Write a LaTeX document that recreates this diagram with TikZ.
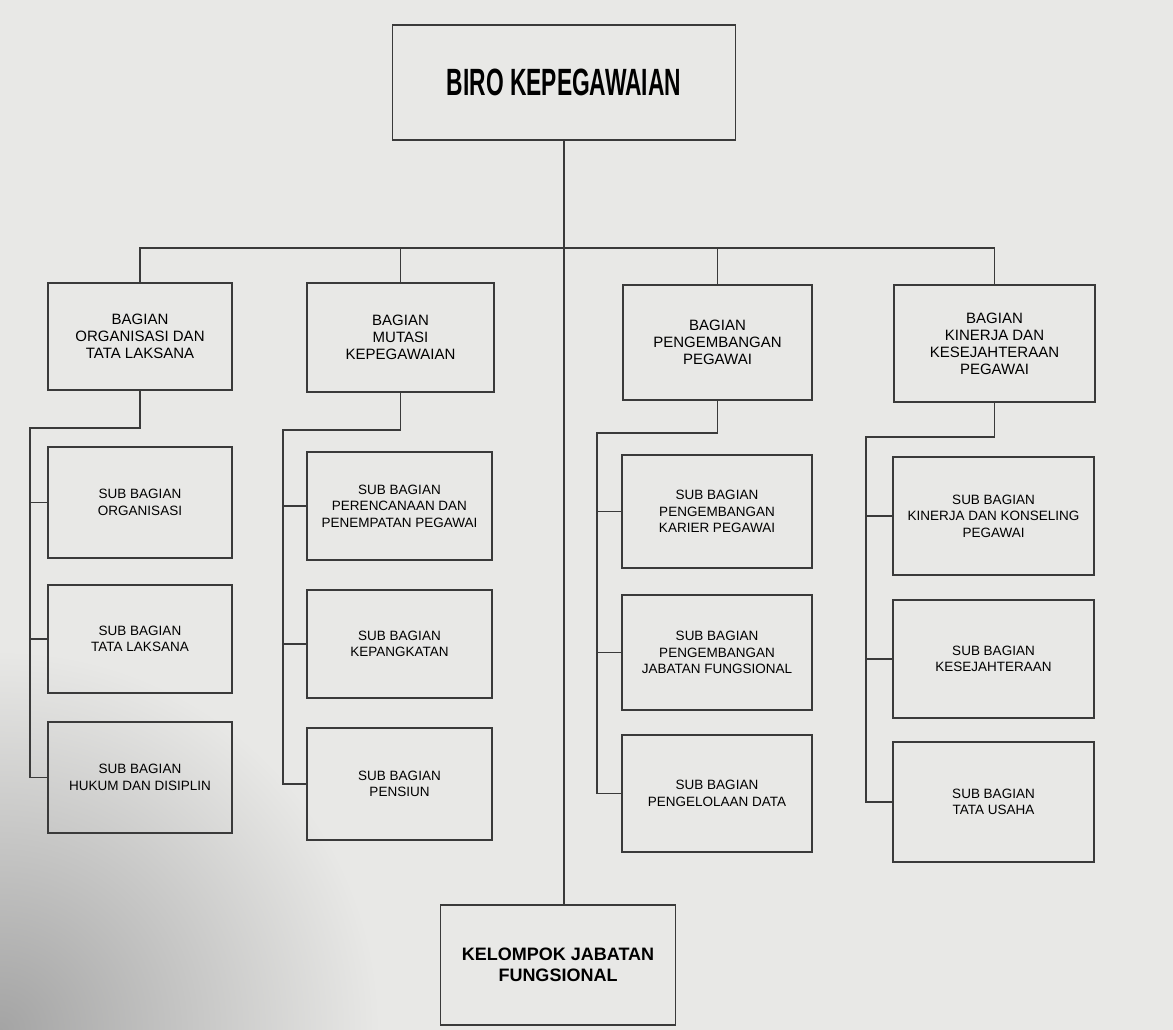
\documentclass[tikz,border=0pt]{standalone}
\usepackage{fontspec}
\usepackage{graphicx}
\setmainfont{Liberation Sans}
\definecolor{paper}{HTML}{E8E8E6}
\definecolor{shadow}{HTML}{A4A4A4}
\definecolor{ink}{HTML}{3A3A3A}
\begin{document}
\begin{tikzpicture}[x=1pt,y=-1pt,
  box/.style={draw=ink, line width=1.3pt, rectangle, inner sep=0pt, align=center, text=black},
  bagbox/.style={box, font=\fontsize{15}{17}\selectfont},
  subbox/.style={box, font=\fontsize{13.5}{16.5}\selectfont},
  link/.style={draw=ink, line width=1.2pt}]
\fill[paper] (0,0) rectangle (1173,1030);
\begin{scope}
\clip (0,0) rectangle (1173,1030);
\shade[inner color=shadow, outer color=paper] (0,1030) circle (380);
\end{scope}
\useasboundingbox (0,0) rectangle (1173,1030);

% top and bottom
\node[box, minimum width=343pt, minimum height=115pt] (biro) at (564,82.5)
  {\scalebox{0.6}[1]{\fontsize{38}{40}\selectfont\bfseries BIRO KEPEGAWAIAN}};
\node[box, minimum width=235pt, minimum height=120pt, font=\fontsize{18}{21}\selectfont\bfseries] (kjf) at (558,965)
  {KELOMPOK JABATAN\\FUNGSIONAL};

% bagian
\node[bagbox, minimum width=184pt, minimum height=107pt] (b1) at (140,336.5) {BAGIAN\\ORGANISASI DAN\\TATA LAKSANA};
\node[bagbox, minimum width=187pt, minimum height=109pt] (b2) at (400.5,337.5) {BAGIAN\\MUTASI\\KEPEGAWAIAN};
\node[bagbox, minimum width=189pt, minimum height=115pt] (b3) at (717.5,342.5) {BAGIAN\\PENGEMBANGAN\\PEGAWAI};
\node[bagbox, minimum width=201pt, minimum height=117pt] (b4) at (994.5,343.5) {BAGIAN\\KINERJA DAN\\KESEJAHTERAAN\\PEGAWAI};

% sub bagian column 1
\node[subbox, minimum width=184pt, minimum height=111pt] (s11) at (140,502.5) {SUB BAGIAN\\ORGANISASI};
\node[subbox, minimum width=184pt, minimum height=108pt] (s12) at (140,639) {SUB BAGIAN\\TATA LAKSANA};
\node[subbox, minimum width=184pt, minimum height=111pt] (s13) at (140,777.5) {SUB BAGIAN\\HUKUM DAN DISIPLIN};
% column 2
\node[subbox, minimum width=185pt, minimum height=108pt] (s21) at (399.5,506) {SUB BAGIAN\\PERENCANAAN DAN\\PENEMPATAN PEGAWAI};
\node[subbox, minimum width=185pt, minimum height=108pt] (s22) at (399.5,644) {SUB BAGIAN\\KEPANGKATAN};
\node[subbox, minimum width=185pt, minimum height=112pt] (s23) at (399.5,784) {SUB BAGIAN\\PENSIUN};
% column 3
\node[subbox, minimum width=190pt, minimum height=113pt] (s31) at (717,511.5) {SUB BAGIAN\\PENGEMBANGAN\\KARIER PEGAWAI};
\node[subbox, minimum width=190pt, minimum height=115pt] (s32) at (717,652.5) {SUB BAGIAN\\PENGEMBANGAN\\JABATAN FUNGSIONAL};
\node[subbox, minimum width=190pt, minimum height=117pt] (s33) at (717,793.5) {SUB BAGIAN\\PENGELOLAAN DATA};
% column 4
\node[subbox, minimum width=201pt, minimum height=118pt] (s41) at (993.5,516) {SUB BAGIAN\\KINERJA DAN KONSELING\\PEGAWAI};
\node[subbox, minimum width=201pt, minimum height=118pt] (s42) at (993.5,659) {SUB BAGIAN\\KESEJAHTERAAN};
\node[subbox, minimum width=201pt, minimum height=120pt] (s43) at (993.5,802) {SUB BAGIAN\\TATA USAHA};

% spine and bus
\coordinate (bus) at (564,248);
\draw[link] (biro.south) -- (biro.south |- kjf.north);
\draw[link] (b1.north) |- (bus) -| (b4.north);
\draw[link] (b2.north) -- (b2.north |- bus);
\draw[link] (b3.north) -- (b3.north |- bus);

% column connectors
\coordinate (e1) at (30,428);
\coordinate (e2) at (283,430);
\coordinate (e3) at (597,433);
\coordinate (e4) at (866,437);
\draw[link] (b1.south) |- (e1) |- (s13.west);
\draw[link] (s11.west -| e1) -- (s11.west);
\draw[link] (s12.west -| e1) -- (s12.west);
\draw[link] (b2.south) |- (e2) |- (s23.west);
\draw[link] (s21.west -| e2) -- (s21.west);
\draw[link] (s22.west -| e2) -- (s22.west);
\draw[link] (b3.south) |- (e3) |- (s33.west);
\draw[link] (s31.west -| e3) -- (s31.west);
\draw[link] (s32.west -| e3) -- (s32.west);
\draw[link] (b4.south) |- (e4) |- (s43.west);
\draw[link] (s41.west -| e4) -- (s41.west);
\draw[link] (s42.west -| e4) -- (s42.west);
\end{tikzpicture}
\end{document}
